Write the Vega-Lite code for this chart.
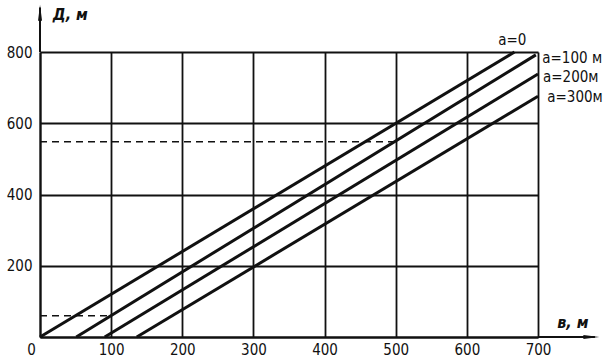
{
  "$schema": "https://vega.github.io/schema/vega-lite/v6.json",
  "width": 498,
  "height": 285,
  "autosize": "none",
  "padding": {"left": 40, "top": 52, "right": 71, "bottom": 27},
  "background": "white",
  "config": {"view": {"stroke": null}, "font": "DejaVu Sans Condensed"},
  "layer": [
    {
      "data": {"values": [
        {"a": "0", "b": 0, "d": 0}, {"a": "0", "b": 667, "d": 800},
        {"a": "100", "b": 51, "d": 0}, {"a": "100", "b": 697, "d": 792},
        {"a": "200", "b": 91, "d": 0}, {"a": "200", "b": 700, "d": 738},
        {"a": "300", "b": 136, "d": 0}, {"a": "300", "b": 700, "d": 676}
      ]},
      "mark": {"type": "line", "strokeWidth": 3, "color": "#111"},
      "encoding": {
        "x": {"field": "b", "type": "quantitative", "scale": {"domain": [0, 700], "nice": false, "zero": false},
          "axis": {
            "values": [0, 50, 100, 150, 200, 250, 300, 350, 400, 450, 500, 550, 600, 650, 700],
            "title": null, "grid": true, "gridColor": "#111", "gridWidth": 1.8,
            "gridOpacity": {"condition": {"test": "datum.value % 100 !== 0", "value": 0}, "value": 1},
            "domainColor": "#111", "domainWidth": 2,
            "ticks": true, "tickColor": "#111", "tickWidth": 1.5, "tickOpacity": 1,
            "tickSize": {"condition": {"test": "datum.value % 100 === 0", "value": 0}, "value": -6},
            "labelExpr": "datum.value % 100 === 0 ? datum.label : ''",
            "labelFontSize": 15, "labelColor": "#111", "labelPadding": 5,
            "labelOffset": {"condition": {"test": "datum.value === 0", "value": -9}, "value": 0},
            "labelFlush": false, "labelOverlap": false, "labelBound": false
          }},
        "y": {"field": "d", "type": "quantitative", "scale": {"domain": [0, 800], "nice": false},
          "axis": {
            "values": [0, 100, 200, 300, 400, 500, 600, 700, 800],
            "title": null, "grid": true, "gridColor": "#111", "gridWidth": 1.8,
            "gridOpacity": {"condition": {"test": "datum.value % 200 !== 0", "value": 0}, "value": 1},
            "domainColor": "#111", "domainWidth": 2,
            "ticks": true, "tickColor": "#111", "tickWidth": 1.5, "tickOpacity": 1,
            "tickSize": {"condition": {"test": "datum.value % 200 === 0", "value": 0}, "value": -6},
            "labelExpr": "datum.value % 200 === 0 && datum.value > 0 ? datum.label : ''",
            "labelFontSize": 15, "labelColor": "#111", "labelPadding": 8,
            "labelFlush": false, "labelOverlap": false, "labelBound": false
          }},
        "detail": {"field": "a"}
      }
    },
    {
      "data": {"values": [
        {"s": "d1", "b": 0, "d": 548}, {"s": "d1", "b": 500, "d": 548},
        {"s": "d2", "b": 0, "d": 60}, {"s": "d2", "b": 100, "d": 60}
      ]},
      "mark": {"type": "line", "strokeWidth": 1.5, "color": "#111", "strokeDash": [7, 5]},
      "encoding": {
        "x": {"field": "b", "type": "quantitative"},
        "y": {"field": "d", "type": "quantitative"},
        "detail": {"field": "s"}
      }
    },
    {
      "data": {"values": [
        {"b": 700, "b2": 780, "d": 0, "d2": 0},
        {"b": 0, "b2": 0, "d": 800, "d2": 925}
      ]},
      "mark": {"type": "rule", "strokeWidth": 2, "color": "#111"},
      "encoding": {
        "x": {"field": "b", "type": "quantitative"},
        "x2": {"field": "b2"},
        "y": {"field": "d", "type": "quantitative"},
        "y2": {"field": "d2"}
      }
    },
    {
      "data": {"values": [{"b": 775, "d": 0}]},
      "mark": {"type": "point", "filled": true, "color": "#111", "opacity": 1, "size": 256, "shape": "M-1,-0.25 L1,0 L-1,0.25 Z"},
      "encoding": {
        "x": {"field": "b", "type": "quantitative"},
        "y": {"field": "d", "type": "quantitative"}
      }
    },
    {
      "data": {"values": [{"b": 0, "d": 910}]},
      "mark": {"type": "point", "filled": true, "color": "#111", "opacity": 1, "size": 256, "shape": "M-0.25,1 L0,-1 L0.25,1 Z"},
      "encoding": {
        "x": {"field": "b", "type": "quantitative"},
        "y": {"field": "d", "type": "quantitative"}
      }
    },
    {
      "data": {"values": [
        {"t": "а=0", "b": 644, "d": 834},
        {"t": "а=100 м", "b": 706, "d": 783},
        {"t": "а=200м", "b": 707, "d": 730},
        {"t": "а=300м", "b": 713, "d": 674}
      ]},
      "mark": {"type": "text", "align": "left", "baseline": "middle", "fontSize": 15, "color": "#111"},
      "encoding": {
        "x": {"field": "b", "type": "quantitative"},
        "y": {"field": "d", "type": "quantitative"},
        "text": {"field": "t"}
      }
    },
    {
      "data": {"values": [
        {"t": "Д, м", "b": 18, "d": 904},
        {"t": "в, м", "b": 727, "d": 39}
      ]},
      "mark": {"type": "text", "align": "left", "baseline": "middle", "fontSize": 16, "fontStyle": "italic", "fontWeight": "bold", "color": "#111"},
      "encoding": {
        "x": {"field": "b", "type": "quantitative"},
        "y": {"field": "d", "type": "quantitative"},
        "text": {"field": "t"}
      }
    }
  ]
}
